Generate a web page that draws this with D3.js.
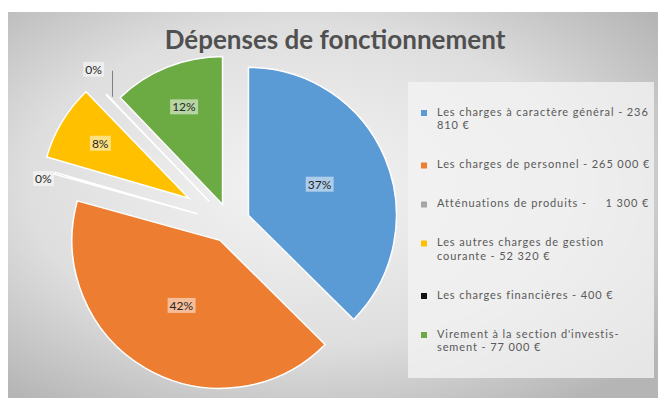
<!DOCTYPE html>
<html>
<head>
<meta charset="utf-8">
<script src="https://cdn.jsdelivr.net/npm/d3@7"></script>
<style>
  body { margin: 0; background: #fff; }
  svg { display: block; font-family: Lato, 'Open Sans', sans-serif; }
</style>
</head>
<body>
<svg></svg>
<script>
// --- data ---
const categories = [
  'Les charges à caractère général',
  'Les charges de personnel',
  'Atténuations de produits',
  'Les autres charges de gestion courante',
  'Les charges financières',
  "Virement à la section d'investissement"
]
const amounts = [236810, 265000, 1300, 52320, 400, 77000]
// legend text, wrapped the way the original wraps it
const legendLines = [
  ['Les charges à caractère général - 236', '810 €'],
  ['Les charges de personnel - 265 000 €'],
  ['Atténuations de produits -     1 300 €'],
  ['Les autres charges de gestion', 'courante - 52 320 €'],
  ['Les charges financières - 400 €'],
  ["Virement à la section d'investis-", 'sement - 77 000 €']
]

const colors = ['#5b9bd5', '#ed7d31', '#a5a5a5', '#ffc000', '#111111', '#6cab44']
// how far each slice is pulled out of the pie
const explode = [20, 20, 34, 48, 30, 20]

const W = 667, H = 406
const svg = d3.select('svg').attr('width', W).attr('height', H)

// background gradient of the chart area
const defs = svg.append('defs')
const bg = defs.append('radialGradient').attr('id', 'bg')
  .attr('cx', '45%').attr('cy', '45%').attr('r', '70%')
bg.append('stop').attr('offset', '0%').attr('stop-color', '#f4f4f4')
bg.append('stop').attr('offset', '60%').attr('stop-color', '#dedede')
bg.append('stop').attr('offset', '100%').attr('stop-color', '#b5b5b5')

svg.append('rect')
  .attr('x', 8).attr('y', 12).attr('width', 650).attr('height', 386)
  .attr('fill', 'url(#bg)')

svg.append('text')
  .attr('x', 335).attr('y', 42)
  .attr('text-anchor', 'middle').attr('dominant-baseline', 'middle')
  .attr('font-size', 26).attr('font-weight', 'bold')
  .attr('fill', '#505050')
  .text('Dépenses de fonctionnement')

// --- pie ---
const cx = 230, cy = 223, r = 148
const total = d3.sum(amounts)
const pct = d3.format('.0%')

const pie = d3.pie().sort(null).value(d => d)
const arcs = pie(amounts)
const arcGen = d3.arc().innerRadius(0).outerRadius(r)

const dir = a => [Math.sin(a), -Math.cos(a)]

const pieGroup = svg.append('g').attr('transform', `translate(${cx},${cy})`)

pieGroup.selectAll('path')
  .data(arcs)
  .enter()
  .append('path')
  .attr('d', arcGen)
  .attr('transform', (d, i) => {
    const m = (d.startAngle + d.endAngle) / 2
    const [dx, dy] = dir(m)
    return `translate(${dx * explode[i]},${dy * explode[i]})`
  })
  .attr('fill', (d, i) => colors[i])
  .attr('stroke', '#ffffff')
  .attr('stroke-width', 1.5)

// value labels
arcs.forEach((d, i) => {
  const m = (d.startAngle + d.endAngle) / 2
  const [dx, dy] = dir(m)
  const share = d.value / total
  let x, y
  if (share < 0.02) {
    // tiny slices: label outside
    const R = r + explode[i] + 12
    x = dx * R
    y = dy * R
    if (i === 4) {
      // leader line up to the label
      const x0 = dx * (r + explode[i]), y0 = dy * (r + explode[i])
      x = x0 - 13
      y = y0 - 24
      pieGroup.append('line')
        .attr('x1', x0 + 6).attr('y1', y0 + 2)
        .attr('x2', x0 + 6).attr('y2', y)
        .attr('stroke', '#7f7f7f').attr('stroke-width', 1)
    } else {
      y += 10
    }
  } else {
    const k = (d.endAngle - d.startAngle) > Math.PI / 2 ? 0.52 : 0.7
    x = dx * explode[i] + dx * r * k
    y = dy * explode[i] + dy * r * k
  }
  const g = pieGroup.append('g').attr('transform', `translate(${x},${y})`)
  const t = g.append('text')
    .attr('text-anchor', 'middle').attr('dominant-baseline', 'middle')
    .attr('font-size', 12).attr('fill', '#262626')
    .text(pct(share))
  const bb = t.node().getBBox()
  g.insert('rect', 'text')
    .attr('x', bb.x - 2).attr('y', bb.y)
    .attr('width', bb.width + 4).attr('height', bb.height)
    .attr('fill', '#ffffff').attr('fill-opacity', 0.5)
})

// --- legend ---
const legend = svg.append('g')
legend.append('rect')
  .attr('x', 408).attr('y', 82).attr('width', 246).attr('height', 296)
  .attr('fill', '#f3f3f3').attr('fill-opacity', 0.8)

const lineH = 13.5, gap = 39
let ly = 113
categories.forEach((c, i) => {
  const item = legend.append('g')
  item.append('rect')
    .attr('x', 421).attr('y', ly - 3).attr('width', 6).attr('height', 6)
    .attr('fill', colors[i])
  legendLines[i].forEach((line, k) => {
    item.append('text')
      .attr('x', 437).attr('y', ly + k * lineH)
      .attr('dominant-baseline', 'middle')
      .attr('xml:space', 'preserve')
      .style('white-space', 'pre')
      .attr('font-size', 11).attr('letter-spacing', 0.9)
      .attr('fill', '#595959')
      .text(line)
  })
  ly += (legendLines[i].length - 1) * lineH + gap
})
</script>
</body>
</html>
